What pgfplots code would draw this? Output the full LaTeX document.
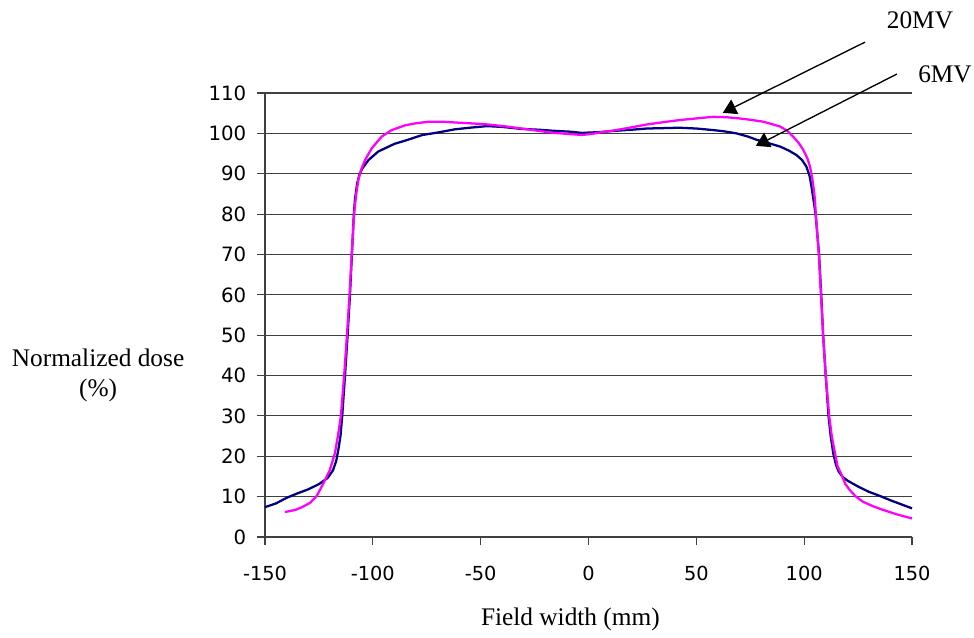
\documentclass[border=0pt]{standalone}
\usepackage{fontspec}
\setmainfont{Liberation Serif}
\newfontfamily\tickfont{DejaVu Sans}
\usepackage{pgfplots}
\pgfplotsset{compat=1.18}
\usetikzlibrary{arrows.meta}
\definecolor{navyc}{RGB}{0,0,128}
\definecolor{magc}{RGB}{255,0,255}
\begin{document}
\begin{tikzpicture}
\useasboundingbox (-198.75pt,-75pt) rectangle (531.75pt,402.75pt);
\begin{axis}[
  at={(0,0)}, anchor=south west,
  scale only axis, width=485.25pt, height=333pt,
  xmin=-150, xmax=150, ymin=0, ymax=110,
  xtick={-150,-100,...,150}, ytick={0,10,...,110},
  axis lines*=left,
  axis line style={black!75, line width=0.8pt},
  tick style={black!75, line width=0.8pt},
  tick align=outside, major tick length=6pt,
  ymajorgrids, grid style={black!75, line width=0.8pt},
  /pgf/number format/assume math mode=true,
  yticklabel style={font=\tickfont\fontsize{14.8}{16}\selectfont, xshift=-4.5pt},
  xticklabel style={font=\tickfont\fontsize{14.5}{16}\selectfont, yshift=-12pt},
  clip=false,
  every axis plot/.append style={no marks, line width=1.7pt, line join=round},
]
\addplot[navyc] coordinates {
(-150,7.4) (-145,8.3) (-140,9.7) (-135,10.8) (-130,11.8) (-125,13.1) (-121,14.6)
(-118.5,16.5) (-117,18.8) (-116,21.6) (-115,25) (-114.2,30) (-112.9,40) (-111.7,50)
(-110.6,60) (-109.7,70) (-108.8,80) (-108.3,83.5) (-107.3,87.5) (-106.2,89.8)
(-105,91.2) (-102,93.4) (-97.5,95.5) (-90,97.4) (-85,98.2) (-77,99.6) (-70,100.2)
(-62,101) (-55,101.4) (-47,101.8) (-40,101.6) (-31,101.1) (-23,100.9) (-15,100.6)
(-8,100.4) (-3,100.1) (0,100.2) (5,100.3) (11.5,100.6) (20,100.9) (27,101.2)
(35,101.3) (42,101.4) (50,101.2) (58,100.8) (63,100.5) (68.6,100) (74,99.2)
(78,98.4) (84,97.5) (89,96.7) (93,95.7) (96.5,94.6) (99,93.4) (101,91.8)
(102.5,89.5) (103.4,86.8) (104.2,84) (105.3,80) (106.9,70) (107.9,60) (108.8,50)
(110,40) (111.3,30) (112.3,25) (113.5,20.7) (114.8,17.8) (116,16.2) (118,14.8)
(120,14) (125,12.5) (130,11.2) (135,10.2) (140,9.1) (145,8.1) (150,7.1)
};
\addplot[magc] coordinates {
(-140.7,6.2) (-136,6.7) (-132.8,7.4) (-129,8.5) (-126,10.2) (-123,13.2) (-120,16.5)
(-117.6,20.7) (-116.2,25) (-114.8,30) (-113.3,40) (-112,50) (-110.8,60) (-109.8,70)
(-108.7,80) (-107.7,85) (-106.7,88.5) (-105.3,91.2) (-103.6,93.4) (-100.5,96.3)
(-95.9,99.2) (-91.3,100.8) (-85,102) (-80,102.5) (-74,102.9) (-68,102.9) (-62,102.7)
(-55,102.5) (-46.5,102.2) (-38,101.7) (-31,101.2) (-23,100.6) (-15.6,100.1)
(-8,99.8) (-3,99.6) (2,99.9) (6,100.3) (11.5,100.7) (18,101.3) (27,102.2)
(35,102.8) (42.4,103.3) (50,103.7) (57.8,104.1) (64,104) (70,103.7) (76,103.3)
(81,102.9) (85,102.3) (88.8,101.7) (92,100.7) (94.9,99.2) (97.5,97.6) (99.6,95.9)
(101.5,93.8) (102.7,91.8) (103.7,89) (104.3,86.8) (105,83.5) (105.4,80) (106.8,70)
(107.8,60) (108.8,50) (110,40) (111.6,30) (112.8,25) (114.3,20.7) (115.5,17.5)
(117.4,15.4) (119,13.2) (121.2,11.6) (124,10) (127.4,8.7) (132,7.6) (136.7,6.7)
(143,5.6) (150,4.6)
};
\draw[line width=1pt, -{Triangle[length=10pt,width=12pt]}] (axis cs:128.2,122.6) -- (axis cs:62.3,105.1);
\draw[line width=1pt, -{Triangle[length=10pt,width=12pt]}] (axis cs:143,114.7) -- (axis cs:77.6,96.9);
\node[font=\fontsize{19}{22}\selectfont] at (axis cs:153.7,128.1) {20MV};
\node[font=\fontsize{19}{22}\selectfont] at (axis cs:165.3,114.7) {6MV};
\node[font=\fontsize{19}{22}\selectfont, align=center] at (rel axis cs:-0.258,0.364) {Normalized dose\\(\%)};
\node[font=\fontsize{19}{22}\selectfont] at (rel axis cs:0.472,-0.185) {Field width (mm)};
\end{axis}
\end{tikzpicture}
\end{document}
